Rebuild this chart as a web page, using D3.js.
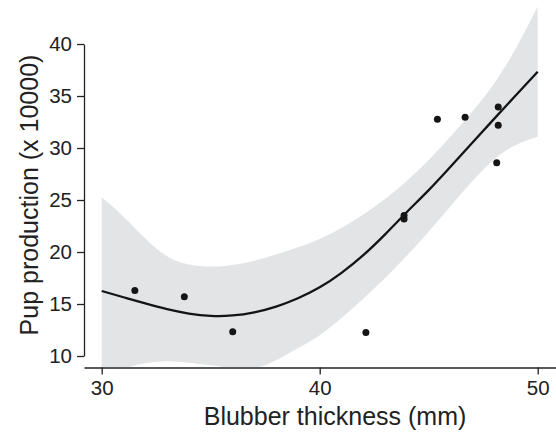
<!DOCTYPE html>
<html>
<head>
<meta charset="utf-8">
<script src="https://cdn.jsdelivr.net/npm/d3@7"></script>
<style>
  html, body { margin: 0; padding: 0; background: #fff; }
  svg { display: block; }
  text { font-family: "Liberation Sans", Arial, Helvetica, sans-serif; fill: #222; }
</style>
</head>
<body>
<svg id="chart" width="556" height="433"></svg>
<script>
// Observed data points
const pointX = [31.52, 33.79, 36.01, 42.12, 43.87, 43.87, 45.40, 46.67, 48.19, 48.19, 48.12];
const pointY = [16.29, 15.70, 12.32, 12.26, 23.51, 23.17, 32.76, 32.95, 33.94, 32.18, 28.59];

// Smoothed fit with confidence band
const fitX    = [30, 31, 32, 33, 34, 35, 36, 37, 38, 39, 40, 41, 42, 43, 44, 45, 46, 47, 48, 49, 50];
const fitY    = [16.25, 15.65, 15.05, 14.5, 14.08, 13.86, 13.9, 14.2, 14.75, 15.55, 16.6, 18.0, 19.7, 21.7, 23.85, 25.95, 28.2, 30.5, 32.8, 35.08, 37.34];
const bandHigh = [25.26, 23.4, 21.3, 19.6, 18.8, 18.6, 18.75, 19.15, 19.75, 20.45, 21.25, 22.3, 23.6, 25.1, 26.85, 28.85, 31.1, 33.5, 36.2, 39.6, 43.6];
const bandLow  = [7.24, 8.7, 9.3, 9.5, 9.35, 9.1, 8.85, 8.85, 9.6, 10.75, 12.0, 13.65, 15.5, 17.5, 19.65, 21.95, 24.4, 26.8, 28.9, 30.3, 31.09];

const xTicks = [30, 40, 50];
const yTicks = [10, 15, 20, 25, 30, 35, 40];
const xTitle = "Blubber thickness (mm)";
const yTitle = "Pup production (x 10000)";

const svg = d3.select("#chart");
const x = d3.scaleLinear().domain([30, 50]).range([101.7, 537.7]);
const y = d3.scaleLinear().domain([10, 40]).range([356, 44]);
const xAxisY = 367.5;
const yAxisX = 84;

// clip to panel
svg.append("defs").append("clipPath").attr("id", "panel")
  .append("rect").attr("x", yAxisX).attr("y", 0).attr("width", 556 - yAxisX).attr("height", xAxisY - 0.5);

const band = fitX.map((v, i) => ({x: v, lo: bandLow[i], hi: bandHigh[i], f: fitY[i]}));

const g = svg.append("g").attr("clip-path", "url(#panel)");
g.append("path")
  .datum(band)
  .attr("fill", "#e3e4e6")
  .attr("d", d3.area().curve(d3.curveNatural).x(d => x(d.x)).y0(d => y(d.lo)).y1(d => y(d.hi)));

g.append("path")
  .datum(band)
  .attr("fill", "none")
  .attr("stroke", "#141414")
  .attr("stroke-width", 2.3)
  .attr("d", d3.line().curve(d3.curveNatural).x(d => x(d.x)).y(d => y(d.f)));

g.selectAll("circle.pt")
  .data(pointX.map((v, i) => ({x: v, y: pointY[i]})))
  .enter().append("circle")
  .attr("class", "pt")
  .attr("cx", d => x(d.x))
  .attr("cy", d => y(d.y))
  .attr("r", 3.5)
  .attr("fill", "#151515");

// Axes
const xAxisScale = x.copy().domain([x.invert(yAxisX), x.invert(556)]).range([yAxisX, 556]);
const xAxis = svg.append("g")
  .attr("transform", `translate(0,${xAxisY})`)
  .call(d3.axisBottom(xAxisScale).tickValues(xTicks).tickSize(7).tickSizeOuter(0).tickPadding(6).tickFormat(d3.format("d")));
const yAxis = svg.append("g")
  .attr("transform", `translate(${yAxisX},0)`)
  .call(d3.axisLeft(y).tickValues(yTicks).tickSize(7).tickSizeOuter(0).tickPadding(5).tickFormat(d3.format("d")));

[xAxis, yAxis].forEach(a => {
  a.select(".domain").attr("stroke", "#222").attr("stroke-width", 1.3);
  a.selectAll(".tick line").attr("stroke", "#222").attr("stroke-width", 1.3);
  a.selectAll(".tick text").attr("font-size", "20.5px").attr("fill", "#222")
    .style("font-family", "'Liberation Sans', Arial, Helvetica, sans-serif");
});

svg.append("text")
  .attr("x", 335).attr("y", 425)
  .attr("text-anchor", "middle")
  .attr("font-size", "25px")
  .text(xTitle);

svg.append("text")
  .attr("transform", "translate(38,195) rotate(-90)")
  .attr("text-anchor", "middle")
  .attr("font-size", "25px")
  .text(yTitle);
</script>
</body>
</html>
